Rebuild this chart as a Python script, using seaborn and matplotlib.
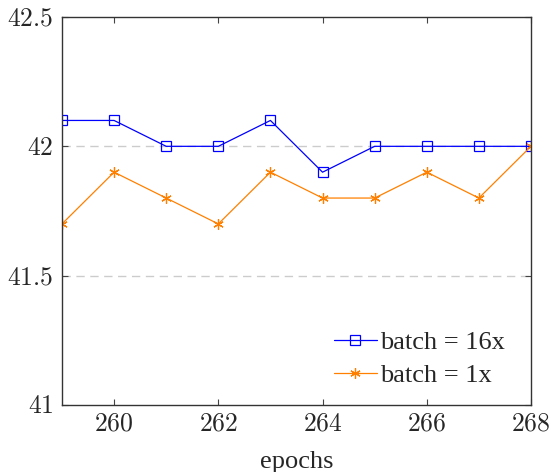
import matplotlib
matplotlib.use("Agg")
import matplotlib.pyplot as plt
import seaborn as sns
import pandas as pd

epochs = [259, 260, 261, 262, 263, 264, 265, 266, 267, 268]
batch16 = [42.1, 42.1, 42.0, 42.0, 42.1, 41.9, 42.0, 42.0, 42.0, 42.0]
batch1 = [41.7, 41.9, 41.8, 41.7, 41.9, 41.8, 41.8, 41.9, 41.8, 42.0]
labels = ["batch = 16x", "batch = 1x"]
xticks = [260, 262, 264, 266, 268]
yticks = [41, 41.5, 42, 42.5]
ytick_labels = ["41", "41.5", "42", "42.5"]

sns.set_theme(style="white")
plt.rcParams["font.family"] = ["Liberation Serif", "DejaVu Serif"]
plt.rcParams["mathtext.fontset"] = "cm"

fig = plt.figure(figsize=(5.51, 4.72), dpi=100)
ax = fig.add_axes([0.1125, 0.142, 0.8512, 0.822])

df16 = pd.DataFrame({"epochs": epochs, "value": batch16})
df1 = pd.DataFrame({"epochs": epochs, "value": batch1})

sns.lineplot(data=df16, x="epochs", y="value", color="#0000ff", marker="s",
             markersize=7.2, markerfacecolor="none", markeredgecolor="#0000ff",
             markeredgewidth=0.9, linewidth=0.9, label=labels[0], ax=ax)
sns.lineplot(data=df1, x="epochs", y="value", color="#ff8000", marker=(6, 2, 0),
             markersize=7.5, markeredgecolor="#ff8000",
             markeredgewidth=0.9, linewidth=0.9, label=labels[1], ax=ax)

ax.set_xlim(259, 268)
ax.set_ylim(41, 42.5)
ax.set_xticks(xticks)
ax.set_xticklabels([f"${t}$" for t in xticks])
ax.set_yticks(yticks)
ax.set_yticklabels([f"${t}$" for t in ytick_labels])
ax.set_xlabel("epochs", fontsize=19, labelpad=11)
ax.set_ylabel("")
ax.tick_params(direction="in", length=4, width=0.8, labelsize=18.5, color="#444444",
               top=True, right=True, bottom=True, left=True)
ax.tick_params(axis="x", pad=6)
ax.tick_params(axis="y", pad=6)
for y in [41.5, 42]:
    ax.axhline(y, color="#cccccc", linestyle=(0, (6, 4)), linewidth=1.0, zorder=0)
for s in ax.spines.values():
    s.set_color("#333333")
    s.set_linewidth(1.0)

leg = ax.legend(loc="lower right", bbox_to_anchor=(1.0, -0.022), frameon=False,
                fontsize=19, handlelength=1.65, handletextpad=0.1,
                borderaxespad=0.6, labelspacing=0.36, borderpad=0.4)

fig.savefig("out.png", dpi=100)
